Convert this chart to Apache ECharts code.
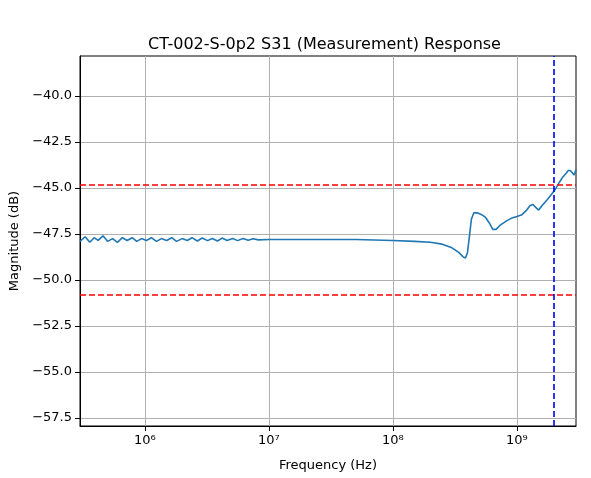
<!DOCTYPE html>
<html>
<head>
<meta charset="utf-8">
<script src="https://cdn.jsdelivr.net/npm/echarts@6/dist/echarts.min.js"></script>
<style>html,body{margin:0;padding:0;background:#fff}#chart{width:591px;height:478px}</style>
</head>
<body>
<div id="chart"></div>
<script>
// frequency (Hz) and magnitude (dB)
var freqs = [3.0e5,3.3e5,3.6e5,3.9e5,4.2e5,4.6e5,5.0e5,5.5e5,6.0e5,6.6e5,7.2e5,7.9e5,8.6e5,9.4e5,1.03e6,1.13e6,1.24e6,1.36e6,1.5e6,1.65e6,1.8e6,2.0e6,2.2e6,2.4e6,2.65e6,2.9e6,3.2e6,3.5e6,3.85e6,4.2e6,4.6e6,5.1e6,5.6e6,6.2e6,6.8e6,7.5e6,8.2e6,
  1.0e7,2.0e7,5.0e7,1.0e8,1.5e8,2.0e8,2.5e8,3.0e8,3.4e8,3.7e8,3.85e8,4.0e8,4.15e8,4.3e8,4.5e8,4.8e8,5.2e8,5.6e8,6.0e8,6.4e8,6.8e8,7.4e8,8.2e8,9.0e8,1.0e9,1.1e9,1.2e9,1.28e9,1.35e9,1.42e9,1.5e9,1.6e9,1.75e9,1.9e9,2.05e9,2.2e9,2.35e9,2.5e9,2.6e9,2.7e9,2.8e9,2.9e9,3.0e9];
var mags = [-47.9,-47.65,-47.95,-47.7,-47.85,-47.6,-47.9,-47.75,-47.95,-47.7,-47.85,-47.7,-47.9,-47.75,-47.85,-47.7,-47.9,-47.75,-47.85,-47.7,-47.9,-47.75,-47.85,-47.7,-47.88,-47.72,-47.86,-47.74,-47.88,-47.72,-47.85,-47.75,-47.86,-47.74,-47.84,-47.76,-47.82,
  -47.8,-47.8,-47.8,-47.85,-47.9,-47.95,-48.05,-48.25,-48.5,-48.75,-48.8,-48.5,-47.6,-46.7,-46.35,-46.35,-46.45,-46.6,-46.9,-47.25,-47.25,-47.0,-46.8,-46.65,-46.55,-46.45,-46.2,-45.95,-45.9,-46.05,-46.2,-45.95,-45.65,-45.35,-45.05,-44.7,-44.4,-44.2,-44.05,-44.05,-44.15,-44.3,-44.0];
var xTicks = [1e6,1e7,1e8,1e9];
var yTicks = [-57.5,-55.0,-52.5,-50.0,-47.5,-45.0,-42.5,-40.0];
var limitLines = [-44.8,-50.8];
var cutoffFreq = 2.0e9;

var sup = {'0':'⁰','1':'¹','2':'²','3':'³','4':'⁴','5':'⁵','6':'⁶','7':'⁷','8':'⁸','9':'⁹'};
var pts = freqs.map(function (f, i) { return [f, mags[i]]; });
var font = 'DejaVu Sans';

var chart = echarts.init(document.getElementById('chart'));
chart.setOption({
  animation: false,
  title: {text: 'CT-002-S-0p2 S31 (Measurement) Response', left: 143, top: 32,
    textStyle: {fontFamily: font, fontSize: 16, fontWeight: 'normal', color: '#000'}},
  grid: {left: 80, right: 15, top: 56, bottom: 52},
  xAxis: {
    type: 'log', logBase: 10, min: 3e5, max: 3e9,
    name: 'Frequency (Hz)', nameLocation: 'middle', nameGap: 33,
    nameTextStyle: {fontFamily: font, fontSize: 13, color: '#000'},
    axisLine: {onZero: false, lineStyle: {color: '#000'}},
    axisTick: {customValues: xTicks, lineStyle: {color: '#000'}},
    axisLabel: {customValues: xTicks, fontFamily: font, fontSize: 13, color: '#000',
      formatter: function (v) { var e = String(Math.round(Math.log10(v))); return '10' + e.split('').map(function (c) { return sup[c]; }).join(''); }},
    splitLine: {show: true, lineStyle: {color: '#b0b0b0'}}
  },
  yAxis: {
    type: 'value', min: -57.93, max: -37.83,
    name: 'Magnitude (dB)', nameLocation: 'middle', nameGap: 52,
    nameTextStyle: {fontFamily: font, fontSize: 13, color: '#000'},
    axisLine: {show: true, lineStyle: {color: '#000'}},
    axisTick: {show: true, customValues: yTicks, lineStyle: {color: '#000'}},
    axisLabel: {customValues: yTicks, fontFamily: font, fontSize: 13, color: '#000',
      formatter: function (v) { return v.toFixed(1).replace('-', '\u2212'); }},
    splitLine: {show: true, lineStyle: {color: '#b0b0b0'}}
  },
  series: [{
    type: 'line', data: pts, showSymbol: false,
    lineStyle: {color: '#1f77b4', width: 1.6},
    markLine: {
      symbol: 'none', silent: true, label: {show: false},
      data: limitLines.map(function (v) { return {yAxis: v, lineStyle: {color: '#ff0000', type: [6, 3], width: 1.6}}; })
        .concat([{xAxis: cutoffFreq, lineStyle: {color: '#0000ff', type: [6, 3], width: 1.6}}])
    }
  }],
  graphic: [{type: 'rect', shape: {x: 80, y: 56, width: 496, height: 370}, style: {fill: 'none', stroke: '#000', lineWidth: 1}, silent: true}]
});
</script>
</body>
</html>
